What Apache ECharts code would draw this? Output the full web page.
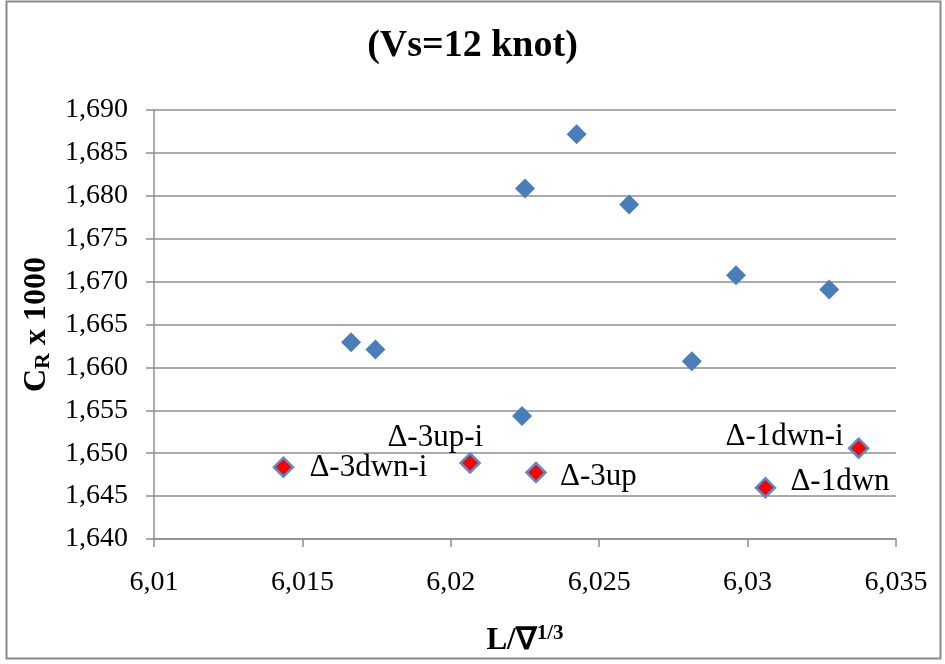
<!DOCTYPE html>
<html>
<head>
<meta charset="utf-8">
<script src="https://cdn.jsdelivr.net/npm/echarts@6/dist/echarts.min.js"></script>
<style>
  html, body { margin: 0; padding: 0; background: #fff; }
  #chart { width: 945px; height: 664px; }
</style>
</head>
<body>
<div id="chart"></div>
<script>
// Residuary resistance coefficient vs. slenderness ratio at Vs = 12 knot
const titleText = '(Vs=12 knot)';

// Hull variants (blue diamonds)
const baseX = [6.01664, 6.01746, 6.0224, 6.0225, 6.02424, 6.02601, 6.02812, 6.02961, 6.03275];
const baseY = [1.66294, 1.66209, 1.65434, 1.68086, 1.68717, 1.679, 1.66073, 1.67074, 1.66907];

// Labelled displacement variants (red diamonds)
const markedNames = ['Δ-3dwn-i', 'Δ-3up-i', 'Δ-3up', 'Δ-1dwn', 'Δ-1dwn-i'];
const markedX = [6.01436, 6.02065, 6.02287, 6.0306, 6.03374];
const markedY = [1.64837, 1.64887, 1.64775, 1.64598, 1.65058];

// Axis ranges / tick steps
const xMin = 6.01, xMax = 6.035, xStep = 0.005;
const yMin = 1.64, yMax = 1.69, yStep = 0.005;

// Where each label sits relative to its marker
const labelLayout = {
  'Δ-3dwn-i': { align: 'left',  offset: [26, 1] },
  'Δ-3up-i':  { align: 'right', offset: [13, -25] },
  'Δ-3up':    { align: 'left',  offset: [24, 4] },
  'Δ-1dwn':   { align: 'left',  offset: [25, -6] },
  'Δ-1dwn-i': { align: 'right', offset: [-15, -11] }
};

const serif = '"Liberation Serif", "Times New Roman", serif';
const blue = '#4a7ebb';
const gridGrey = '#8f8f8f';

const baseData = baseX.map((x, i) => [x, baseY[i]]);
const markedData = markedX.map((x, i) => {
  const lay = labelLayout[markedNames[i]];
  return {
    value: [x, markedY[i]],
    name: markedNames[i],
    label: { align: lay.align, offset: lay.offset }
  };
});

const chart = echarts.init(document.getElementById('chart'), null, { renderer: 'canvas' });

chart.setOption({
  animation: false,
  backgroundColor: '#ffffff',
  title: {
    text: titleText,
    left: 'center',
    top: 22,
    textStyle: { fontFamily: serif, fontWeight: 'bold', fontSize: 38, color: '#000' }
  },
  graphic: [{
    type: 'rect',
    shape: { x: 6.5, y: 1.5, width: 934, height: 657 },
    style: { fill: null, stroke: '#8a8a8a', lineWidth: 2 },
    silent: true
  }],
  grid: { left: 154, right: 49, top: 110, bottom: 125 },
  xAxis: {
    type: 'value',
    min: xMin, max: xMax, interval: xStep,
    name: 'L/∇{sup|1/3}',
    nameLocation: 'middle',
    nameGap: 84,
    nameTextStyle: {
      fontFamily: serif, fontWeight: 'bold', fontSize: 31, color: '#000',
      rich: { sup: { fontFamily: serif, fontWeight: 'bold', fontSize: 21, verticalAlign: 'top', padding: [0, 0, 14, 0] } }
    },
    axisLine: { show: true, lineStyle: { color: gridGrey, width: 1.5 } },
    axisTick: { show: true, inside: false, length: 8, lineStyle: { color: gridGrey, width: 1.5 } },
    splitLine: { show: false },
    axisLabel: {
      margin: 30,
      fontFamily: serif, fontSize: 28, color: '#000',
      formatter: v => String(Number(v.toFixed(3))).replace('.', ',')
    }
  },
  yAxis: {
    type: 'value',
    min: yMin, max: yMax, interval: yStep,
    name: 'C{sub|R} x 1000',
    nameLocation: 'middle',
    nameRotate: 90,
    nameGap: 99,
    nameTextStyle: {
      fontFamily: serif, fontWeight: 'bold', fontSize: 32, color: '#000',
      rich: { sub: { fontFamily: serif, fontWeight: 'bold', fontSize: 22, verticalAlign: 'bottom', padding: [12, 0, 0, 0] } }
    },
    axisLine: { show: true, lineStyle: { color: gridGrey, width: 1.5 } },
    axisTick: { show: true, inside: false, length: 8, lineStyle: { color: gridGrey, width: 1.5 } },
    splitLine: { show: true, lineStyle: { color: gridGrey, width: 1.5 } },
    axisLabel: {
      margin: 26,
      fontFamily: serif, fontSize: 28, color: '#000',
      formatter: v => v.toFixed(3).replace('.', ',')
    }
  },
  series: [
    {
      type: 'scatter',
      symbol: 'diamond',
      symbolSize: 20,
      itemStyle: { color: blue, opacity: 1 },
      data: baseData,
      z: 3
    },
    {
      type: 'scatter',
      symbol: 'diamond',
      symbolSize: 19,
      itemStyle: { color: '#ff0000', borderColor: '#5b8dcb', borderWidth: 2.5, opacity: 1 },
      label: {
        show: true,
        position: 'inside',
        verticalAlign: 'middle',
        formatter: p => p.name,
        fontFamily: serif, fontSize: 31, color: '#000',
        textBorderWidth: 0, opacity: 1
      },
      data: markedData,
      z: 4
    }
  ]
});
</script>
</body>
</html>
